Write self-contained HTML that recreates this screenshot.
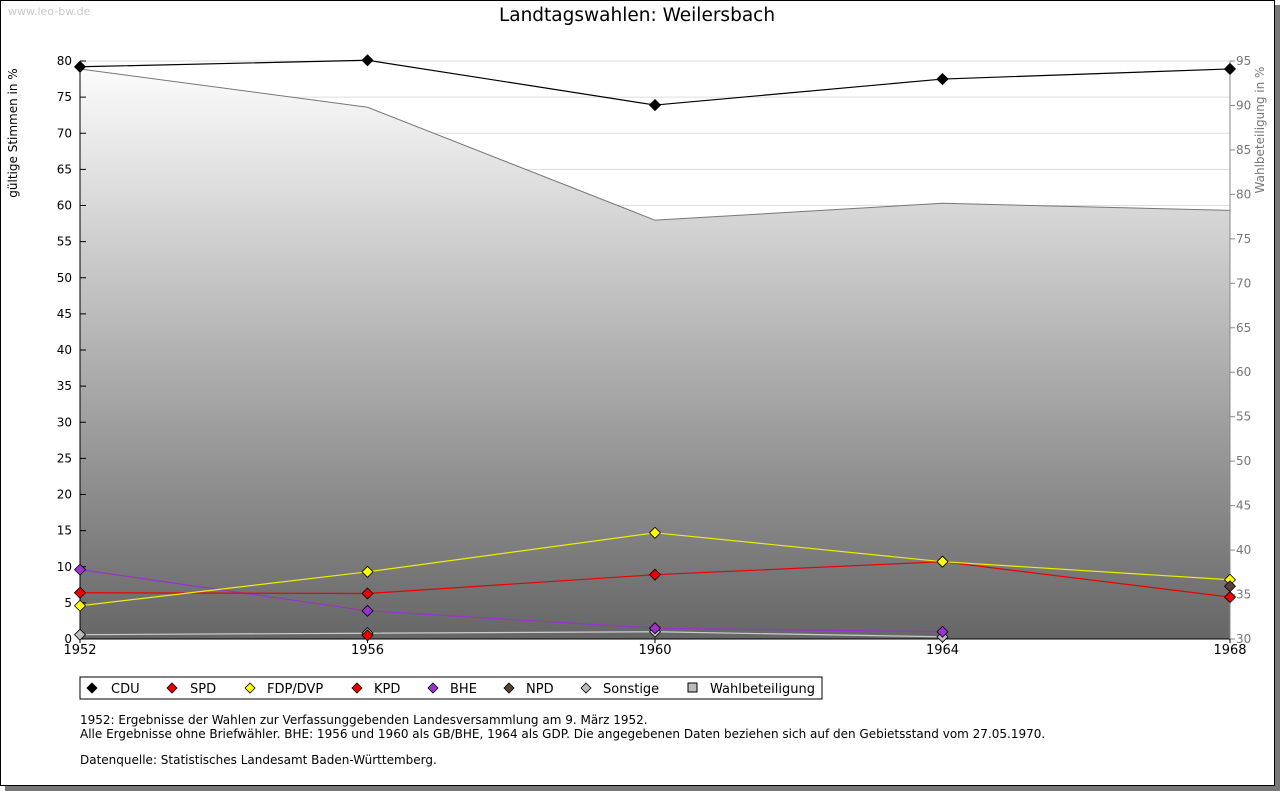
<!DOCTYPE html>
<html><head><meta charset="utf-8">
<style>
body{margin:0;background:#fff;font-family:"DejaVu Sans","Liberation Sans",sans-serif;}
#wrap{position:absolute;left:0;top:0;width:1273px;height:784px;border:1px solid #000;background:#fff;box-shadow:5px 5px 0 #777;}
</style></head><body>
<div id="wrap"></div>
<svg id="svg" width="1280" height="791" style="position:absolute;left:0;top:0" font-family="DejaVu Sans, Liberation Sans, sans-serif">
<defs><linearGradient id="g" x1="0" y1="0" x2="0" y2="1"><stop offset="0" stop-color="#fcfcfc"/><stop offset="1" stop-color="#666"/></linearGradient></defs>
<text x="8" y="15" font-size="11" fill="#c8c8c8">www.leo-bw.de</text>
<text x="637" y="21" font-size="18.5" text-anchor="middle">Landtagswahlen: Weilersbach</text>
<text transform="translate(17,133) rotate(-90)" font-size="12" text-anchor="middle">gültige Stimmen in %</text>
<text transform="translate(1264,130) rotate(-90)" font-size="12" fill="#777" text-anchor="middle">Wahlbeteiligung in %</text>
<g id="plot"></g>
<g id="legend">
<rect x="80" y="677" width="742" height="22" fill="#fff" stroke="#000"/>
</g>
<text font-size="12"><tspan x="80" y="724">1952: Ergebnisse der Wahlen zur Verfassunggebenden Landesversammlung am 9. März 1952.</tspan><tspan x="80" y="738">Alle Ergebnisse ohne Briefwähler. BHE: 1956 und 1960 als GB/BHE, 1964 als GDP. Die angegebenen Daten beziehen sich auf den Gebietsstand vom 27.05.1970.</tspan><tspan x="80" y="764">Datenquelle: Statistisches Landesamt Baden-Württemberg.</tspan></text>
</svg>
<script>
const years=[1952,1956,1960,1964,1968];
const cdu=[79.2,80.1,73.9,77.5,78.9];
const spd=[6.4,6.3,8.9,10.7,5.8];
const fdp=[4.6,9.3,14.7,10.7,8.2];
const kpd=[6.4,0.5,null,null,null];
const bhe=[9.6,3.9,1.5,1.0,null];
const npd=[null,null,null,null,7.3];
const sonst=[0.6,0.8,1.0,0.3,null];
const turnout=[94.1,89.8,77.1,79.0,78.2];
const leftTicks=[0,5,10,15,20,25,30,35,40,45,50,55,60,65,70,75,80];
const rightTicks=[30,35,40,45,50,55,60,65,70,75,80,85,90,95];
const NS='http://www.w3.org/2000/svg';
const L=80,R=1230,T=61,B=639;
const X=y=>L+(y-1952)/(1968-1952)*(R-L);
const Y=v=>B-v/80*(B-T);
const Y2=v=>B-(v-30)/65*(B-T);
const plot=document.getElementById('plot');
function el(tag,at,par){const e=document.createElementNS(NS,tag);for(const k in at)e.setAttribute(k,at[k]);(par||plot).appendChild(e);return e;}
leftTicks.forEach(v=>{if(v>0)el('line',{x1:L,x2:R,y1:Y(v),y2:Y(v),stroke:'#ddd','stroke-width':1});});
let d='M'+X(years[0])+','+B;
years.forEach((y,i)=>d+=' L'+X(y)+','+Y2(turnout[i]));
d+=' L'+X(years[4])+','+B+' Z';
let a=el('path',{d:d,fill:'url(#g)',stroke:'none'});


let ln=el('polyline',{points:years.map((y,i)=>X(y)+','+Y2(turnout[i])).join(' '),fill:'none',stroke:'#777'});


el('line',{x1:L,x2:L,y1:T,y2:B,stroke:'#000'});
el('line',{x1:L,x2:R,y1:B,y2:B,stroke:'#000'});
el('line',{x1:R,x2:R,y1:T,y2:B,stroke:'#888'});
leftTicks.forEach(v=>{el('line',{x1:L,x2:L+6,y1:Y(v),y2:Y(v),stroke:'#000'});
 const t=el('text',{x:L-8,y:Y(v)+4,'font-size':12,'text-anchor':'end'});t.textContent=v;
 });
rightTicks.forEach(v=>{el('line',{x1:R,x2:R+5,y1:Y2(v),y2:Y2(v),stroke:'#888'});
 const t=el('text',{x:R+6,y:Y2(v)+4,'font-size':12,fill:'#777'});t.textContent=v;
 });
years.forEach(y=>{el('line',{x1:X(y),x2:X(y),y1:B,y2:B+4,stroke:'#000'});
 const t=el('text',{x:X(y),y:B+15,'font-size':13,'text-anchor':'middle'});t.textContent=y;
 });
function series(name,vals,color,line){
 const pts=[];vals.forEach((v,i)=>{if(v!=null)pts.push([X(years[i]),Y(v)]);});
 if(line&&pts.length>1){const p=el('polyline',{points:pts.map(p=>p.join(',')).join(' '),fill:'none',stroke:line,'stroke-width':1.2});
  }
 pts.forEach(p=>{const m=el('path',{d:`M${p[0]},${p[1]-5.5} L${p[0]+5.5},${p[1]} L${p[0]},${p[1]+5.5} L${p[0]-5.5},${p[1]} Z`,fill:color,stroke:'#000','stroke-width':0.8,'stroke-linejoin':'round'});
  });
}
series('sonstige',sonst,'#bbb','#ccc');
series('kpd',kpd,'#e00',null);
series('bhe',bhe,'#93c','#93c');
series('spd',spd,'#e00','#e00');
series('fdp',fdp,'#ff0','#ee0');
series('npd',npd,'#5a4030',null);
series('cdu',cdu,'#000','#000');
const lg=document.getElementById('legend');
const items=[['CDU','#000',92,111],['SPD','#e00',172,190],['FDP/DVP','#ff0',250,267],['KPD','#e00',357,374],['BHE','#93c',433,450],['NPD','#5a4030',509,526],['Sonstige','#bbb',586,603]];
items.forEach(it=>{const g=el('g',{},lg);
 el('path',{d:`M${it[2]},683 L${it[2]+5},688 L${it[2]},693 L${it[2]-5},688 Z`,fill:it[1],stroke:'#000','stroke-width':0.8},g);
 const t=el('text',{x:it[3],y:693,'font-size':13},g);t.textContent=it[0];});
const g2=el('g',{},lg);
el('rect',{x:688,y:683,width:9,height:9,fill:'#bbb',stroke:'#000'},g2);
const t2=el('text',{x:710,y:693,'font-size':13},g2);t2.textContent='Wahlbeteiligung';
</script>
</body></html>
